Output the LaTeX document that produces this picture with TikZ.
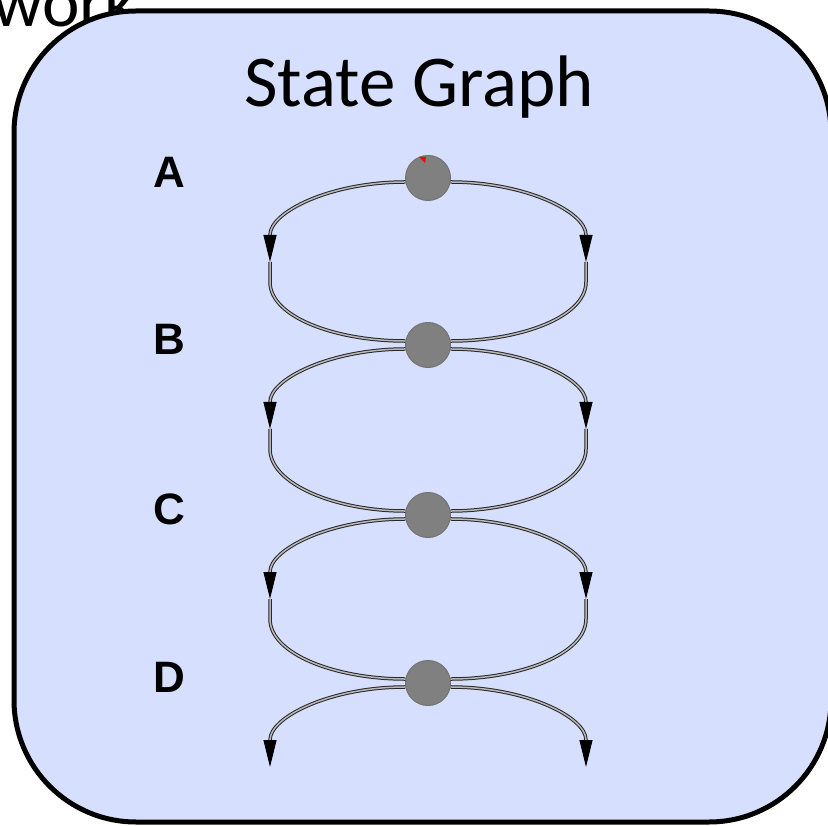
\documentclass[tikz,border=0pt]{standalone}
\usepackage{fontspec}
\newfontfamily\calfont{Carlito}
\newfontfamily\helvfont{Liberation Sans}
\usetikzlibrary{arrows.meta}
\definecolor{boxblue}{RGB}{214,224,254}
\definecolor{nodegray}{RGB}{128,128,128}
\tikzset{
  panel/.style={draw=black, line width=5pt, fill=boxblue, rounded corners=122pt},
  statenode/.style={circle, minimum size=45pt, inner sep=0pt, fill=nodegray, draw=black!55, line width=1pt},
  steplabel/.style={font=\helvfont\bfseries\fontsize{44}{44}\selectfont, inner sep=0pt},
  edgeline/.style={draw=black!85, line width=1pt, double=gray!55, double distance=1.5pt},
  tipped/.style={-{Triangle[length=27pt,width=13pt,fill=black,color=black]}},
}
\begin{document}
\begin{tikzpicture}[x=1pt,y=-1pt]
\useasboundingbox (0,0) rectangle (828,826);
\node[anchor=base east, inner sep=0pt, font=\calfont\fontsize{71}{71}\selectfont] (work) at (137,27) {work};
\draw[panel] (14,11) rectangle (831,822);
\node[anchor=base, inner sep=0pt, font=\calfont\fontsize{73}{73}\selectfont] (title) at (419,107) {State Graph};
\foreach \n/\y in {A/178,B/345,C/515,D/683}{
  \node[statenode] (\n) at (428,\y) {};
  \node[steplabel] (lab\n) at (169,\y-6) {\n};
  \coordinate (l\n) at (270,\y+84);
  \coordinate (r\n) at (586,\y+84);
}
\fill[red] (419,157) -- (426,157) -- (425,163) -- cycle;
\foreach \u/\v in {A/B,B/C,C/D}{
  \draw[edgeline,tipped] (\u.190) .. controls ([xshift=-75pt]\u.190) and ([yshift=50pt]l\u) .. ([yshift=27pt]l\u) -- (l\u);
  \draw[edgeline] (l\u) -- ([yshift=-20pt]l\u) .. controls ([yshift=-55pt]l\u) and ([xshift=-70pt]\v.170) .. (\v.170);
  \draw[edgeline,tipped] (\u.-10) .. controls ([xshift=75pt]\u.-10) and ([yshift=50pt]r\u) .. ([yshift=27pt]r\u) -- (r\u);
  \draw[edgeline] (r\u) -- ([yshift=-20pt]r\u) .. controls ([yshift=-55pt]r\u) and ([xshift=70pt]\v.10) .. (\v.10);
}
\draw[edgeline,tipped] (D.190) .. controls ([xshift=-75pt]D.190) and ([yshift=50pt]lD) .. ([yshift=27pt]lD) -- (lD);
\draw[edgeline,tipped] (D.-10) .. controls ([xshift=75pt]D.-10) and ([yshift=50pt]rD) .. ([yshift=27pt]rD) -- (rD);
\end{tikzpicture}
\end{document}
